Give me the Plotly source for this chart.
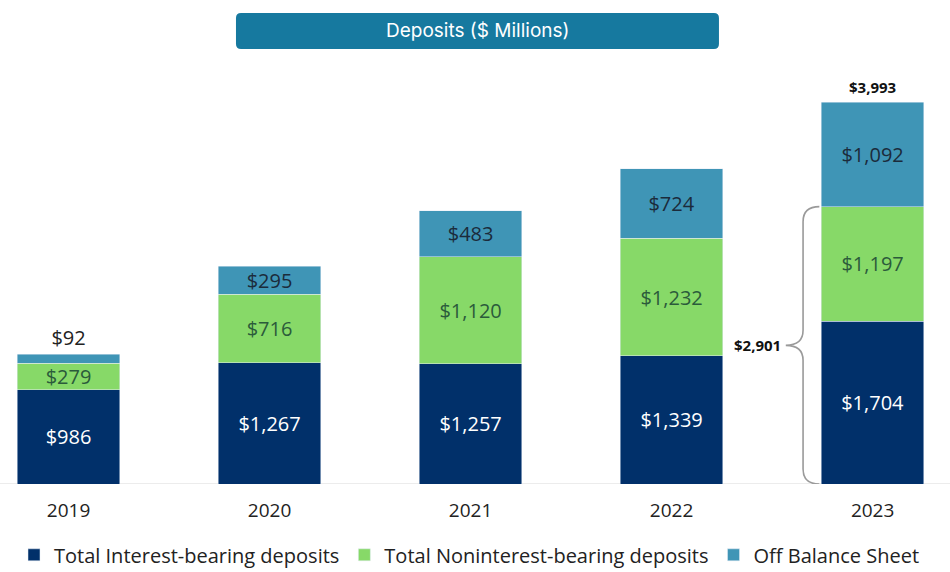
import plotly.graph_objects as go

years = ["2019", "2020", "2021", "2022", "2023"]
interest = [986, 1267, 1257, 1339, 1704]
noninterest = [279, 716, 1120, 1232, 1197]
off_balance = [92, 295, 483, 724, 1092]

NAVY = "#01306A"
GREEN = "#87D968"
TEAL = "#3F95B6"
BOX = "#16799F"
FONT = "Open Sans"
LBL = 20

xs = list(range(len(years)))
fmt = lambda v: f"${v:,.0f}"

fig = go.Figure()
fig.add_trace(go.Bar(
    x=xs, y=interest, name="Total Interest-bearing deposits", marker_color=NAVY,
    width=0.51, text=[fmt(v) for v in interest], textposition="inside",
    insidetextanchor="middle", constraintext="none",
    textfont=dict(color="white", size=LBL, family=FONT),
))
fig.add_trace(go.Bar(
    x=xs, y=noninterest, name="Total Noninterest-bearing deposits", marker_color=GREEN,
    width=0.51, text=[fmt(v) for v in noninterest], textposition="inside",
    insidetextanchor="middle", constraintext="none",
    textfont=dict(color="#2B5B3B", size=LBL, family=FONT),
))
fig.add_trace(go.Bar(
    x=xs, y=off_balance, name="Off Balance Sheet", marker_color=TEAL,
    width=0.51, text=[fmt(v) for v in off_balance],
    textposition=["outside" if v < 150 else "inside" for v in off_balance],
    insidetextanchor="middle", constraintext="none",
    insidetextfont=dict(color="#1B2B3B", size=LBL, family=FONT),
    outsidetextfont=dict(color="#222222", size=LBL, family=FONT),
    cliponaxis=False,
))

last = len(years) - 1
total_last = interest[last] + noninterest[last] + off_balance[last]
on_bs = interest[last] + noninterest[last]

fig.add_annotation(x=last, y=total_last, text=f"<b>{fmt(total_last)}</b>", showarrow=False,
                   yanchor="bottom", yshift=3, font=dict(size=15, color="#111", family=FONT))

# brace
xr, xm, xt = last - 0.265, last - 0.346, last - 0.432
r = 157
mid = on_bs / 2
path = (f"M {xr},0 Q {xm},0 {xm},{r} L {xm},{mid - r} Q {xm},{mid} {xt},{mid} "
        f"Q {xm},{mid} {xm},{mid + r} L {xm},{on_bs - r} Q {xm},{on_bs} {xr},{on_bs}")
fig.add_shape(type="path", path=path, xref="x", yref="y",
              line=dict(color="#9A9A9A", width=1.6))
fig.add_annotation(x=xt, y=mid, text=f"<b>{fmt(on_bs)}</b>", showarrow=False,
                   xanchor="right", yanchor="middle", xshift=-3,
                   font=dict(size=15, color="#111", family=FONT))

# title box (paper coords: plot area spans y 60..484 px)
y0, y1 = 1.026, 1.111
xa, xb = 0.2484, 0.7568
rx, ry = 0.0053, 0.012
fig.add_shape(type="path", xref="paper", yref="paper",
              path=(f"M {xa+rx},{y1} L {xb-rx},{y1} Q {xb},{y1} {xb},{y1-ry} "
                    f"L {xb},{y0+ry} Q {xb},{y0} {xb-rx},{y0} L {xa+rx},{y0} "
                    f"Q {xa},{y0} {xa},{y0+ry} L {xa},{y1-ry} Q {xa},{y1} {xa+rx},{y1} Z"),
              fillcolor=BOX, line=dict(width=0))
fig.add_annotation(x=(xa + xb) / 2, y=(y0 + y1) / 2, xref="paper", yref="paper",
                   xanchor="center", yanchor="middle", text="Deposits ($ Millions)",
                   showarrow=False, font=dict(size=19, color="white", family="Inter"))

fig.update_layout(
    barmode="stack", width=950, height=572,
    margin=dict(l=0, r=0, t=60, b=88, autoexpand=False),
    paper_bgcolor="white", plot_bgcolor="white",
    showlegend=True,
    legend=dict(orientation="h", x=14 / 950, xanchor="left", y=-0.121, yanchor="top",
                font=dict(size=20, color="#222", family=FONT), itemwidth=30,
                traceorder="normal"),
    xaxis=dict(range=[-0.341, 4.385], tickmode="array", tickvals=xs, ticktext=years,
               showgrid=False, zeroline=False, showline=False,
               tickfont=dict(size=19, color="#222", family=FONT), ticks="",
               ticklabelstandoff=13),
    yaxis=dict(range=[0, 4435], visible=False, showgrid=False, zeroline=False),
)
fig.add_shape(type="line", xref="paper", yref="y", x0=0, x1=1, y0=0, y1=0,
              line=dict(color="#D9D9D9", width=1.2), layer="below")

fig.write_html("out.html")
